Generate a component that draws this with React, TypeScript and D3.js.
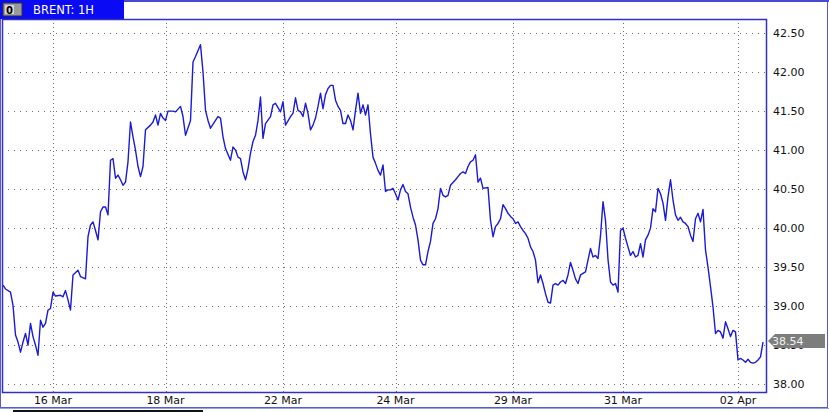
import React from 'react';
import * as d3 from 'd3';

// hourly bar index and close price
const hours = [
  0, 1, 3, 4, 5, 6, 7, 8, 9, 10, 11, 12, 13, 14, 15, 16, 17, 18, 19, 20, 21, 23, 24, 25, 26, 27, 28, 30, 31, 33,
  34, 35, 36, 37, 38, 39, 40, 41, 42, 43, 44, 45, 46, 47, 48, 49, 50, 51, 52, 53, 54, 55, 56, 57, 59, 60, 61, 62, 63, 64,
  65, 66, 68, 69, 71, 72, 73, 75, 76, 77, 79, 80, 81, 82, 83, 85, 86, 87, 88, 89, 91, 92, 93, 94, 95, 96, 97, 98, 99, 100,
  101, 102, 103, 104, 105, 107, 108, 109, 111, 112, 113, 115, 116, 117, 118, 119, 120, 121, 122, 123, 124, 125, 126, 127, 128, 129, 130, 131, 132, 133,
  134, 135, 136, 137, 138, 139, 140, 141, 142, 143, 144, 145, 146, 147, 148, 149, 150, 151, 152, 153, 154, 155, 156, 157, 158, 159, 160, 161, 162, 163,
  164, 165, 166, 167, 168, 169, 170, 171, 172, 173, 174, 175, 176, 177, 178, 179, 181, 182, 183, 184, 185, 186, 187, 188, 189, 190, 191, 192, 194, 195,
  196, 197, 198, 199, 200, 201, 202, 203, 204, 205, 206, 207, 208, 209, 210, 211, 212, 213, 214, 215, 216, 217, 218, 219, 220, 221, 222, 223, 224, 225,
  226, 227, 228, 229, 230, 231, 232, 233, 234, 235, 236, 237, 238, 239, 240, 241, 242, 243, 244, 245, 246, 247, 248, 249, 250, 251, 252, 253, 254, 255,
  256, 257, 258, 259, 260, 261, 262, 263, 264, 265, 266, 267, 268, 269, 270, 271, 272, 273, 274, 275, 276, 277, 278, 279, 280, 281, 282, 283, 284, 285,
  286, 287, 288, 289, 290, 291, 292, 293, 294, 295, 296, 297, 298, 299, 300, 301, 302, 303, 304,
];
const prices = [
  39.27, 39.22, 39.18, 39.01, 38.63, 38.54, 38.41, 38.54, 38.65, 38.5, 38.78, 38.61, 38.5, 38.37, 38.82, 38.73, 38.78, 38.95, 38.97, 39.18, 39.13, 39.14, 39.12, 39.2, 39.08, 38.95, 39.4, 39.46, 39.38, 39.35,
  39.89, 40.04, 40.08, 39.97, 39.85, 40.21, 40.27, 40.27, 40.17, 40.87, 40.89, 40.64, 40.68, 40.62, 40.55, 40.59, 40.85, 41.36, 41.17, 41.0, 40.79, 40.66, 40.79, 41.26, 41.32, 41.36, 41.45, 41.32, 41.47, 41.41,
  41.38, 41.5, 41.5, 41.49, 41.56, 41.43, 41.19, 41.38, 42.13, 42.2, 42.35, 42.0, 41.51, 41.38, 41.28, 41.38, 41.43, 41.41, 41.17, 41.02, 40.87, 41.04, 41.0, 40.91, 40.89, 40.72, 40.62, 40.76, 40.96, 41.11,
  41.19, 41.38, 41.68, 41.15, 41.34, 41.43, 41.58, 41.6, 41.49, 41.62, 41.32, 41.43, 41.47, 41.67, 41.51, 41.49, 41.43, 41.6, 41.47, 41.26, 41.32, 41.41, 41.56, 41.73, 41.53, 41.71, 41.79, 41.83, 41.83, 41.64,
  41.56, 41.51, 41.34, 41.34, 41.45, 41.38, 41.26, 41.51, 41.73, 41.47, 41.58, 41.45, 41.58, 41.21, 40.91, 40.83, 40.74, 40.68, 40.81, 40.47, 40.49, 40.49, 40.51, 40.44, 40.36, 40.49, 40.56, 40.47, 40.44, 40.27,
  40.14, 40.04, 39.85, 39.59, 39.53, 39.53, 39.7, 39.83, 40.06, 40.12, 40.25, 40.51, 40.42, 40.4, 40.42, 40.55, 40.62, 40.66, 40.7, 40.72, 40.7, 40.79, 40.85, 40.87, 40.94, 40.59, 40.64, 40.51, 40.52, 40.1,
  39.89, 40.02, 40.06, 40.12, 40.3, 40.25, 40.19, 40.15, 40.12, 40.06, 40.08, 40.02, 39.97, 39.93, 39.87, 39.76, 39.7, 39.59, 39.3, 39.4, 39.29, 39.16, 39.05, 39.04, 39.27, 39.29, 39.27, 39.31, 39.33, 39.29,
  39.4, 39.56, 39.46, 39.35, 39.29, 39.4, 39.42, 39.44, 39.59, 39.74, 39.63, 39.65, 39.61, 39.9, 40.34, 40.1, 39.6, 39.31, 39.27, 39.29, 39.18, 39.97, 40.0, 39.87, 39.76, 39.65, 39.7, 39.63, 39.65, 39.8,
  39.63, 39.85, 39.91, 40.0, 40.25, 40.21, 40.51, 40.44, 40.32, 40.1, 40.4, 40.62, 40.36, 40.17, 40.1, 40.14, 40.08, 40.06, 40.02, 39.91, 39.83, 40.12, 40.19, 40.08, 40.24, 39.72, 39.5, 39.25, 38.99, 38.65,
  38.69, 38.67, 38.59, 38.8, 38.71, 38.61, 38.69, 38.67, 38.31, 38.33, 38.31, 38.28, 38.32, 38.28, 38.27, 38.28, 38.31, 38.35, 38.54,
];

const dateTickHours = [20, 65, 112, 157, 204, 248, 294];
const dateTickLabels = ['16 Mar', '18 Mar', '22 Mar', '24 Mar', '29 Mar', '31 Mar', '02 Apr'];
const priceTicks = [38.0, 38.5, 39.0, 39.5, 40.0, 40.5, 41.0, 41.5, 42.0, 42.5];

const W = 829;
const H = 412;
const plot = { left: 3, top: 19, right: 766, bottom: 392 };
const font = '"DejaVu Sans", Verdana, sans-serif';

const App: React.FC = () => {
  const x = d3.scaleLinear().domain([0, 305.2]).range([plot.left, plot.right]);
  const y = d3.scaleLinear().domain([37.9, 42.68]).range([plot.bottom, plot.top]);

  const points: [number, number][] = hours.map((h, i) => [h, prices[i]]);
  const line = d3.line<[number, number]>()
    .x(d => x(d[0]))
    .y(d => y(d[1]));

  const last = prices[prices.length - 1];
  const lastY = Math.round(y(last)) - 1;

  return (
    <svg width={W} height={H} style={{ position: 'absolute', left: 0, top: 0, background: '#fff' }}>
      {/* outer frame */}
      <rect x={0.5} y={0.5} width={827} height={407} fill="#fff" stroke="#5a5ad6" strokeWidth={1} />
      <line x1={0} x2={W} y1={1} y2={1} stroke="#4848d0" strokeWidth={2} />

      {/* header tab */}
      <rect x={0} y={0} width={124} height={19} fill="#0a0af5" />
      <rect x={3} y={3} width={19} height={13} fill="#9a9a9a" stroke="#303030" strokeWidth={1} />
      <rect x={5} y={5} width={9} height={9} fill="#d8d8d8" />
      <text x={9.5} y={13.5} fontFamily={font} fontSize={10} fontWeight="bold" textAnchor="middle" fill="#000">0</text>
      <text x={33} y={14} fontFamily={font} fontSize={11.5} fill="#fff">BRENT: 1H</text>

      {/* grid */}
      <g stroke="#707070" strokeWidth={1}>
        {priceTicks.map(t => (
          <line key={'h' + t} x1={8} x2={plot.right} y1={Math.round(y(t)) + 0.5} y2={Math.round(y(t)) + 0.5}
            strokeDasharray="1,5" />
        ))}
        {dateTickHours.map(h => (
          <line key={'v' + h} x1={Math.round(x(h)) + 0.5} x2={Math.round(x(h)) + 0.5} y1={plot.top} y2={plot.bottom}
            strokeDasharray="1,3" />
        ))}
      </g>

      {/* price line */}
      <path d={line(points) || ''} fill="none" stroke="#1a1ad8" strokeWidth={1.4} strokeLinejoin="round" />

      {/* plot frame */}
      <rect x={plot.left - 0.5} y={plot.top + 0.5} width={plot.right - plot.left + 1} height={plot.bottom - plot.top}
        fill="none" stroke="#3030c4" strokeWidth={1.5} />

      {/* right axis labels */}
      {priceTicks.map(t => (
        <text key={'l' + t} x={773} y={y(t) + 4} fontFamily={font} fontSize={11} fill="#111">{t.toFixed(2)}</text>
      ))}

      {/* last price marker */}
      <path d={`M${plot.right + 2},${lastY} L${plot.right + 9},${lastY - 7} L${plot.right + 9},${lastY + 7} Z`} fill="#7d7d7d" />
      <rect x={plot.right + 9} y={lastY - 7} width={W - plot.right - 13} height={14} fill="#7d7d7d" />
      <text x={772} y={lastY + 4} fontFamily={font} fontSize={11} fill="#f2f2f2">{last.toFixed(2)}</text>

      {/* bottom axis labels */}
      {dateTickHours.map((h, i) => (
        <text key={'d' + h} x={x(h)} y={404} fontFamily={font} fontSize={11} textAnchor="middle" fill="#111">
          {dateTickLabels[i]}
        </text>
      ))}

      {/* scrollbar strip */}
      <line x1={0} x2={W} y1={408.5} y2={408.5} stroke="#8fa8e0" strokeWidth={1} />
      <rect x={13} y={410} width={190} height={2} fill="#111" />
    </svg>
  );
};

export default App;
